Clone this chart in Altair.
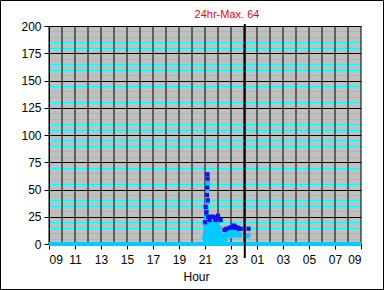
import altair as alt
import pandas as pd

# ---- data (hours since midnight; values past 24 are the next morning) ----
zero_hours = [9, 33]
zero_values = [0, 0]

avg_hours = [20.95, 21.0, 21.02, 21.05, 21.08, 21.1, 21.13, 21.15, 21.17, 21.18, 21.2, 21.22,
             21.25, 21.28, 21.3, 21.35, 21.4, 21.45, 21.5, 21.55, 21.6, 21.65, 21.7, 21.75,
             21.8, 21.85, 21.9, 21.95, 22.0, 22.05, 22.1, 22.15, 22.2, 22.3, 22.4, 22.5,
             22.6, 22.7, 22.8, 22.9, 23.0, 23.1, 23.2, 23.3, 23.4, 23.5, 23.6, 23.7, 24.3,
             21.0, 21.1, 21.2, 21.3, 21.4, 21.5, 21.6, 21.7, 21.8, 22.0, 22.2, 22.4, 22.6,
             21.05, 21.15, 21.25, 21.35, 21.45, 21.55, 21.65, 21.75, 21.85, 21.95, 22.05,
             21.1, 21.3, 21.5, 21.7, 21.9, 22.1, 22.9, 23.0, 23.1, 23.2, 23.3, 23.4, 23.5,
             23.6, 24.2, 24.35]
avg_values = [6, 10, 18, 15, 24, 22, 33, 30, 42, 38, 50, 56,
              18, 14, 12, 8, 14, 18, 10, 6, 15, 20, 12, 8,
              16, 12, 6, 10, 14, 8, 12, 6, 9, 7, 8, 6,
              9, 8, 10, 12, 10, 9, 11, 12, 10, 11, 9, 8, 8,
              4, 4, 5, 4, 4, 5, 4, 4, 5, 4, 4, 4, 4,
              8, 12, 10, 16, 8, 12, 10, 14, 8, 12, 10,
              16, 20, 18, 17, 19, 15, 8, 7, 8, 9, 8, 8, 9,
              8, 7, 8]

max_hours = [21.0, 21.05, 21.1, 21.15, 21.17, 21.19, 21.2, 21.22, 21.25, 21.35, 21.5,
             21.65, 21.8, 21.9, 22.0, 22.2, 22.5, 22.65, 22.9, 23.1, 23.2, 23.3, 23.4,
             23.5, 23.6, 23.75, 24.35]
max_values = [20, 34, 29, 45, 52, 64, 60, 40, 25, 22, 25,
              25, 22, 24, 26, 22, 13, 14, 15, 15, 17, 16, 15,
              15, 14, 14, 14]

now_hour = [24.06]
max_label = ["24hr-Max. 64"]

y_major = list(range(0, 201, 25))
y_minor = [v for v in range(0, 201, 5) if v % 25 != 0]
x_grid = list(range(9, 34))
x_labels = list(range(9, 34, 2))

FONT = "Liberation Sans"

xscale = alt.Scale(domain=[9, 33], nice=False, zero=False)
yscale = alt.Scale(domain=[0, 200], nice=False)

zero_df = pd.DataFrame({"h": zero_hours, "v": zero_values})
avg_df = pd.DataFrame({"h": avg_hours, "v": avg_values})
max_df = pd.DataFrame({"h": max_hours, "v": max_values})
now_df = pd.DataFrame({"h": now_hour})
grid_df = pd.DataFrame({"h": x_grid})
label_df = pd.DataFrame({"t": max_label})
frame_df = pd.DataFrame({"a": [0]})

# hourly vertical grid (black) drawn above the cyan/black horizontal grids
layer_vgrid = alt.Chart(grid_df).mark_rule(color="black", strokeWidth=1).encode(
    x=alt.X("h:Q", scale=xscale, axis=None),
    y=alt.value(0),
    y2=alt.value(218),
)

# zero band, carries the cyan minor y grid
layer_zero = alt.Chart(zero_df).mark_line(color="#00CCFF", strokeWidth=4).encode(
    x=alt.X("h:Q", scale=xscale, axis=None),
    y=alt.Y("v:Q", scale=yscale, axis=alt.Axis(
        orient="right", values=y_minor, grid=True, gridColor="#00FFFF", gridWidth=1,
        labels=False, ticks=False, domain=False, title=None)),
)

# light blue points, carries black major y grid + left axis
layer_avg = alt.Chart(avg_df).mark_square(color="#00CCFF", size=18, opacity=1).encode(
    x=alt.X("h:Q", scale=xscale, axis=None),
    y=alt.Y("v:Q", scale=yscale, axis=alt.Axis(
        orient="left", values=y_major, grid=True, gridColor="black", gridWidth=1,
        labelFont=FONT, labelFontSize=12, labelColor="black", labelPadding=3,
        tickColor="black", tickSize=5, domainColor="black", title=None)),
)

# dark blue points, carries bottom x axis
layer_max = alt.Chart(max_df).mark_square(color="#1010FF", size=18, opacity=1).encode(
    x=alt.X("h:Q", scale=xscale, axis=alt.Axis(
        orient="bottom", values=x_labels, grid=False,
        labelExpr="format(datum.value % 24, '02d')",
        labelFont=FONT, labelFontSize=12, labelColor="black", labelPadding=5,
        tickColor="black", tickSize=5, domain=False,
        title="Hour", titleFont=FONT, titleFontSize=12, titleFontWeight="normal",
        titleColor="black", titleX=147, titleY=36, titleBaseline="alphabetic")),
    y=alt.Y("v:Q", scale=yscale, axis=None),
)

# current-time marker
layer_now = alt.Chart(now_df).mark_rule(color="black", strokeWidth=2).encode(
    x=alt.X("h:Q", scale=xscale, axis=None),
    y=alt.value(-2),
    y2=alt.value(232),
)

# red max label above the plot
layer_label = alt.Chart(label_df).mark_text(
    color="#FF0000", font=FONT, fontSize=11, align="center", baseline="alphabetic"
).encode(text="t:N", x=alt.value(178), y=alt.value(-8))

# outer frame
layer_frame = alt.Chart(frame_df).mark_rect(fill=None, stroke="black", strokeWidth=1).encode(
    x=alt.value(-48.5), x2=alt.value(334.5), y=alt.value(-25.5), y2=alt.value(263.5)
)

chart = alt.layer(
    layer_vgrid, layer_zero, layer_avg, layer_max, layer_now, layer_label, layer_frame
).resolve_axis(
    x="independent", y="independent"
).properties(
    width=312, height=218,
    padding={"left": 49, "top": 26, "right": 24, "bottom": 46},
    autosize=alt.AutoSizeParams(type="none"),
    background="white",
).configure_view(fill="#C0C0C0", stroke=None)

chart.save("out.html", embed_options={"renderer": "svg", "actions": False})
